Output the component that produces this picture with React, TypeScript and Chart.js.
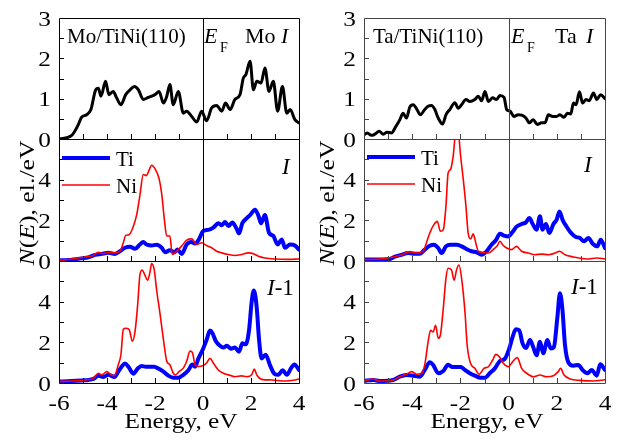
import React, { useEffect, useRef } from "react";
import { Chart, registerables } from "chart.js";
Chart.register(...registerables);

const W = 619;
const H = 441;
const FONT = '"Liberation Serif", "Times New Roman", serif';

// ---- axes ----
const xMin = -6;
const xMax = 4;
const xTickLabels = [-6, -4, -2, 0, 2, 4];

// ---- Mo/TiNi(110): total DOS of Mo (top) ----
const moTotalX = [-6,-5.47,-5.2,-5.06,-4.85,-4.67,-4.47,-4.36,-4.25,-4.06,-3.92,-3.74,-3.6,-3.42,-3.22,-3.04,-2.86,-2.69,-2.49,-2.28,-2.0,-1.83,-1.65,-1.51,-1.38,-1.24,-1.03,-0.82,-0.68,-0.47,-0.26,-0.06,0.15,0.36,0.57,0.78,0.94,1.13,1.33,1.54,1.68,1.79,1.96,2.1,2.24,2.42,2.58,2.75,2.93,3.11,3.31,3.49,3.63,3.83,4.0];
const moTotalY = [0,0.09,0.35,0.54,0.6,0.73,1.22,1.26,1.06,1.43,1.1,1.18,1.02,0.85,1.1,1.22,1.3,1.22,0.98,1.03,1.1,1.18,0.89,1.06,1.35,0.85,1.18,0.64,0.69,0.56,0.42,0.69,0.45,0.77,0.83,0.69,0.89,0.73,0.98,1.1,1.51,1.6,1.93,1.22,1.43,1.39,1.76,1.18,1.43,0.69,1.3,0.64,0.73,0.48,0.4];

// ---- Mo: layer I ----
const moITiX = [-6,-5.61,-5.06,-4.78,-4.5,-4.22,-3.94,-3.67,-3.46,-3.25,-3.04,-2.83,-2.63,-2.49,-2.35,-2.14,-1.93,-1.72,-1.58,-1.38,-1.19,-1.06,-0.89,-0.68,-0.5,-0.33,-0.17,0.01,0.22,0.43,0.64,0.78,0.92,1.06,1.22,1.4,1.5,1.64,1.78,1.96,2.17,2.31,2.42,2.58,2.75,2.93,3.11,3.28,3.42,3.63,3.83,4.0];
const moITiY = [0.03,0.05,0.13,0.18,0.3,0.35,0.4,0.35,0.48,0.65,0.7,0.6,0.81,0.93,0.81,0.76,0.8,0.65,0.43,0.53,0.43,0.56,0.35,0.81,0.93,0.86,1.06,1.48,1.53,1.64,1.86,1.76,1.92,1.72,1.89,1.59,1.36,1.86,2.06,2.26,2.52,2.22,1.86,2.26,1.39,1.23,0.81,1.06,0.65,0.81,0.76,0.56];
const moINiX = [-6,-5.47,-4.92,-4.57,-4.36,-4.15,-3.94,-3.67,-3.46,-3.32,-3.22,-3.08,-2.9,-2.76,-2.63,-2.49,-2.35,-2.25,-2.14,-2.0,-1.83,-1.72,-1.61,-1.51,-1.38,-1.28,-1.1,-0.89,-0.68,-0.47,-0.26,-0.06,0.15,0.36,0.57,0.78,1.06,1.33,1.61,1.89,2.1,2.31,2.58,3.0,3.56,4.0];
const moINiY = [0.03,0.1,0.2,0.27,0.43,0.36,0.43,0.4,0.48,0.9,1.26,1.29,1.71,2.29,3.22,4.25,4.2,4.46,4.71,4.54,4.05,3.3,2.04,1.23,1.23,0.32,0.48,0.73,1.03,1.09,0.81,0.9,0.76,0.65,0.48,0.4,0.32,0.27,0.32,0.4,0.36,0.23,0.15,0.1,0.08,0.1];

// ---- Mo: layer I-1 ----
const moI1TiX = [-6,-5.47,-4.92,-4.57,-4.36,-4.15,-3.94,-3.69,-3.53,-3.39,-3.25,-3.11,-2.9,-2.72,-2.56,-2.39,-2.21,-2.03,-1.86,-1.65,-1.44,-1.24,-1.03,-0.82,-0.61,-0.44,-0.33,-0.19,0.01,0.15,0.29,0.39,0.53,0.71,0.85,0.99,1.17,1.33,1.5,1.64,1.78,1.92,2.03,2.12,2.24,2.33,2.44,2.61,2.79,2.97,3.14,3.32,3.49,3.67,3.81,4.0];
const moI1TiY = [0.07,0.1,0.13,0.2,0.36,0.3,0.4,0.3,0.56,0.8,0.96,0.8,0.46,0.71,0.84,0.8,0.8,0.8,0.71,0.56,0.36,0.26,0.26,0.4,0.63,0.91,0.8,1.21,1.7,2.12,2.58,2.46,2.07,1.83,1.74,1.83,1.69,1.74,1.54,1.95,1.9,2.61,4.02,4.55,3.69,2.21,1.21,1.39,0.88,0.46,0.4,0.63,0.4,0.73,0.91,0.64];
const moI1NiX = [-6,-5.47,-4.92,-4.57,-4.36,-4.22,-4.01,-3.83,-3.69,-3.53,-3.42,-3.32,-3.22,-3.08,-2.94,-2.83,-2.72,-2.63,-2.53,-2.42,-2.31,-2.21,-2.14,-2.03,-1.93,-1.79,-1.65,-1.51,-1.38,-1.24,-1.14,-1.0,-0.82,-0.68,-0.54,-0.44,-0.33,-0.19,0.01,0.15,0.29,0.43,0.64,0.85,1.06,1.33,1.61,1.82,2.03,2.14,2.24,2.44,2.86,3.42,3.83,4.0];
const moI1NiY = [0.07,0.1,0.15,0.23,0.48,0.4,0.56,0.4,0.36,0.9,1.39,2.64,2.69,2.64,2.05,2.55,3.88,5.3,5.55,5.3,5.05,5.45,5.87,5.55,4.55,3.4,2.15,1.07,0.9,0.48,0.4,0.56,0.73,1.07,1.57,1.49,0.9,0.81,0.86,0.98,1.21,0.98,0.64,0.48,0.4,0.31,0.35,0.31,0.41,0.68,0.4,0.18,0.15,0.1,0.15,0.2];

// ---- Ta/TiNi(110): total DOS of Ta (top) ----
const taTotalX = [-6,-5.87,-5.69,-5.55,-5.37,-5.2,-5.04,-4.86,-4.68,-4.51,-4.38,-4.24,-4.1,-3.96,-3.8,-3.66,-3.48,-3.34,-3.2,-3.06,-2.92,-2.74,-2.6,-2.44,-2.23,-2.09,-1.95,-1.77,-1.61,-1.4,-1.26,-1.12,-0.98,-0.84,-0.66,-0.5,-0.36,-0.19,-0.08,0.06,0.22,0.4,0.54,0.72,0.86,1.02,1.19,1.37,1.51,1.65,1.83,1.99,2.13,2.3,2.44,2.58,2.69,2.8,2.94,3.07,3.21,3.35,3.52,3.66,3.82,4.0];
const taTotalY = [0.1,0.15,0.09,0.12,0.19,0.12,0.17,0.15,0.31,0.48,0.64,0.52,0.79,0.85,0.73,0.6,0.73,0.81,0.83,0.73,0.52,0.37,0.6,0.73,0.9,0.76,0.85,0.98,0.93,0.98,1.06,0.95,1.18,0.93,1.02,0.98,1.08,1.03,0.73,0.69,0.56,0.6,0.59,0.52,0.4,0.48,0.36,0.4,0.4,0.6,0.56,0.56,0.6,0.54,0.64,0.62,0.89,0.85,1.17,0.89,0.98,0.95,1.14,0.98,1.1,1.0];

// ---- Ta: layer I ----
const taITiX = [-6,-5.49,-4.93,-4.72,-4.45,-4.17,-3.96,-3.68,-3.48,-3.27,-3.1,-2.92,-2.78,-2.6,-2.41,-2.16,-1.95,-1.75,-1.54,-1.33,-1.12,-0.91,-0.71,-0.53,-0.36,-0.19,-0.01,0.17,0.33,0.54,0.72,0.86,1.0,1.16,1.3,1.41,1.55,1.69,1.86,1.99,2.11,2.24,2.38,2.55,2.76,2.96,3.13,3.31,3.49,3.68,3.82,4.0];
const taITiY = [0.07,0.07,0.1,0.21,0.3,0.39,0.36,0.36,0.56,0.75,0.8,0.64,0.39,0.72,0.8,0.8,0.72,0.59,0.48,0.43,0.31,0.48,0.8,1.02,1.34,1.25,1.21,1.44,1.69,1.82,1.9,2.11,1.82,1.54,2.2,1.54,1.82,1.38,1.82,2.02,2.44,2.02,1.74,1.44,1.2,1.13,0.97,1.13,0.85,0.72,1.05,0.64];
const taINiX = [-6,-5.35,-4.79,-4.45,-4.1,-3.82,-3.55,-3.41,-3.27,-3.1,-2.96,-2.83,-2.71,-2.6,-2.51,-2.41,-2.3,-2.19,-2.09,-1.99,-1.88,-1.77,-1.68,-1.58,-1.47,-1.36,-1.26,-1.05,-0.84,-0.64,-0.47,-0.36,-0.25,-0.08,0.12,0.33,0.54,0.82,1.09,1.37,1.65,1.93,2.11,2.34,2.69,3.24,3.66,4.0];
const taINiY = [0.07,0.1,0.2,0.3,0.46,0.39,0.46,0.89,1.38,1.79,1.95,1.46,1.54,2.69,4.33,4.5,5.15,6.3,6.3,5.15,4.0,2.69,1.38,1.08,1.34,0.89,0.48,0.43,0.39,0.56,0.75,0.97,0.8,0.64,0.56,0.72,0.48,0.39,0.31,0.34,0.31,0.39,0.48,0.31,0.2,0.1,0.15,0.1];

// ---- Ta: layer I-1 ----
const taI1TiX = [-6,-5.62,-5.35,-4.79,-4.52,-4.24,-3.96,-3.68,-3.48,-3.27,-3.13,-2.92,-2.71,-2.51,-2.33,-2.16,-1.99,-1.81,-1.61,-1.4,-1.16,-0.98,-0.78,-0.57,-0.36,-0.15,0.03,0.17,0.3,0.44,0.58,0.72,0.89,1.02,1.16,1.3,1.44,1.61,1.75,1.88,2.02,2.13,2.23,2.34,2.48,2.69,2.89,3.07,3.27,3.45,3.66,3.8,4.0];
const taI1TiY = [0.1,0.15,0.1,0.15,0.31,0.39,0.36,0.31,0.64,1.02,0.89,0.48,0.59,0.9,0.79,0.79,0.79,0.64,0.48,0.36,0.26,0.26,0.48,0.72,1.08,1.2,1.7,2.28,2.64,2.59,1.95,1.72,2.11,1.77,1.36,2.03,1.46,2.11,1.7,1.77,3.18,4.41,3.67,1.87,1.02,0.85,0.89,0.64,0.48,0.64,0.36,0.92,0.64];
const taI1NiX = [-6,-5.62,-5.35,-4.79,-4.52,-4.24,-4.03,-3.82,-3.61,-3.48,-3.34,-3.24,-3.13,-3.03,-2.92,-2.83,-2.71,-2.6,-2.51,-2.37,-2.26,-2.16,-2.06,-1.95,-1.81,-1.72,-1.58,-1.4,-1.22,-1.02,-0.84,-0.66,-0.53,-0.39,-0.22,-0.01,0.17,0.36,0.54,0.75,1.02,1.3,1.58,1.86,2.06,2.16,2.3,2.55,2.96,3.52,4.0];
const taI1NiY = [0.1,0.2,0.1,0.15,0.31,0.43,0.56,0.43,0.48,0.89,2.02,2.59,2.51,2.84,2.2,2.36,3.67,5.15,5.64,5.56,5.05,5.56,5.8,5.15,3.49,1.87,0.97,0.72,0.43,0.72,0.8,1.13,1.41,1.3,0.97,0.8,1.05,1.25,0.72,0.48,0.31,0.39,0.31,0.36,0.56,0.72,0.39,0.2,0.13,0.1,0.16];

// ---- text helpers ----
type Run = { t: string; it?: boolean; size: number; dy?: number };
const fontOf = (r: Run) => `${r.it ? "italic " : ""}${r.size}px ${FONT}`;
function runsWidth(ctx: CanvasRenderingContext2D, runs: Run[]) {
  let w = 0;
  for (const r of runs) {
    ctx.font = fontOf(r);
    w += ctx.measureText(r.t).width;
  }
  return w;
}
function drawRuns(
  ctx: CanvasRenderingContext2D,
  runs: Run[],
  x: number,
  y: number,
  sx = 1,
  align: "left" | "center" | "right" = "left",
  rotate = 0
) {
  ctx.save();
  ctx.translate(x, y);
  if (rotate) ctx.rotate(rotate);
  ctx.scale(sx, 1);
  ctx.fillStyle = "#000";
  ctx.textBaseline = "alphabetic";
  ctx.textAlign = "left";
  const tw = runsWidth(ctx, runs);
  let cx = align === "center" ? -tw / 2 : align === "right" ? -tw : 0;
  for (const r of runs) {
    ctx.font = fontOf(r);
    ctx.fillText(r.t, cx, r.dy || 0);
    cx += ctx.measureText(r.t).width;
  }
  ctx.restore();
}
function legendItem(ctx: CanvasRenderingContext2D, x: number, y: number, color: string, width: number, label: string) {
  ctx.save();
  ctx.strokeStyle = color;
  ctx.lineWidth = width;
  ctx.beginPath();
  ctx.moveTo(x, y);
  ctx.lineTo(x + 48, y);
  ctx.stroke();
  ctx.restore();
  drawRuns(ctx, [{ t: label, size: 21 }], x + 54, y + 8);
}

type Series = { xs: number[]; ys: number[]; color: string; width: number };
type PanelSpec = {
  key: string;
  left: number;
  right: number;
  top: number;
  bottom: number;
  yMax: number;
  yStep: number;
  yMinor: number;
  showX: boolean;
  hideTop: boolean;
  frame: string;
  series: Series[];
  annotate: (ctx: CanvasRenderingContext2D) => void;
};

const BLACK = "#000000";
const BLUE = "#0000ff";
const RED = "#ff0000";

const LX0 = 59, LX1 = 299, RX0 = 364, RX1 = 605;
const R1T = 18, R1B = 139, R2B = 261, R3B = 383;
const TICK_SIZE = 22;
const TEXT_SX = 1.15;

const panels: PanelSpec[] = [
  {
    key: "moTop", left: LX0, right: LX1, top: R1T, bottom: R1B, yMax: 3, yStep: 1, yMinor: 0.5,
    showX: false, hideTop: false, frame: "#000",
    series: [{ xs: moTotalX, ys: moTotalY, color: BLACK, width: 3 }],
    annotate: (ctx) => {
      drawRuns(ctx, [{ t: "Mo/TiNi(110)", size: 21 }], 67, 43);
      drawRuns(ctx, [{ t: "E", it: true, size: 22 }], 204, 43);
      drawRuns(ctx, [{ t: "F", size: 14 }], 220, 52);
      drawRuns(ctx, [{ t: "Mo", size: 22 }], 245, 43);
      drawRuns(ctx, [{ t: "I", it: true, size: 22 }], 281, 43);
      drawRuns(ctx, [{ t: "N", it: true, size: 22 }, { t: "(", size: 22 }, { t: "E", it: true, size: 22 }, { t: "), el./eV", size: 22 }], 34, 203, 1.17, "center", -Math.PI / 2);
    },
  },
  {
    key: "moI", left: LX0, right: LX1, top: R1B, bottom: R2B, yMax: 6, yStep: 2, yMinor: 1,
    showX: false, hideTop: true, frame: "#000",
    series: [
      { xs: moINiX, ys: moINiY, color: RED, width: 1.6 },
      { xs: moITiX, ys: moITiY, color: BLUE, width: 4 },
    ],
    annotate: (ctx) => {
      legendItem(ctx, 62, 158, BLUE, 4, "Ti");
      legendItem(ctx, 62, 185, RED, 1.6, "Ni");
      drawRuns(ctx, [{ t: "I", it: true, size: 23 }], 282, 174);
    },
  },
  {
    key: "moI1", left: LX0, right: LX1, top: R2B, bottom: R3B, yMax: 6, yStep: 2, yMinor: 1,
    showX: true, hideTop: true, frame: "#000",
    series: [
      { xs: moI1NiX, ys: moI1NiY, color: RED, width: 1.6 },
      { xs: moI1TiX, ys: moI1TiY, color: BLUE, width: 4 },
    ],
    annotate: (ctx) => {
      drawRuns(ctx, [{ t: "I", it: true, size: 23 }, { t: "-1", size: 23 }], 267, 295);
      drawRuns(ctx, [{ t: "Energy, eV", size: 22 }], 181, 428, 1.15, "center");
    },
  },
  {
    key: "taTop", left: RX0, right: RX1, top: R1T, bottom: R1B, yMax: 3, yStep: 1, yMinor: 0.5,
    showX: false, hideTop: false, frame: "#444",
    series: [{ xs: taTotalX, ys: taTotalY, color: BLACK, width: 3 }],
    annotate: (ctx) => {
      drawRuns(ctx, [{ t: "Ta/TiNi(110)", size: 21 }], 373, 43);
      drawRuns(ctx, [{ t: "E", it: true, size: 22 }], 511, 43);
      drawRuns(ctx, [{ t: "F", size: 14 }], 527, 52);
      drawRuns(ctx, [{ t: "Ta", size: 22 }], 555, 43);
      drawRuns(ctx, [{ t: "I", it: true, size: 22 }], 586, 43);
      drawRuns(ctx, [{ t: "N", it: true, size: 22 }, { t: "(", size: 22 }, { t: "E", it: true, size: 22 }, { t: "), el./eV", size: 22 }], 334, 203, 1.17, "center", -Math.PI / 2);
    },
  },
  {
    key: "taI", left: RX0, right: RX1, top: R1B, bottom: R2B, yMax: 6, yStep: 2, yMinor: 1,
    showX: false, hideTop: true, frame: "#444",
    series: [
      { xs: taINiX, ys: taINiY, color: RED, width: 1.6 },
      { xs: taITiX, ys: taITiY, color: BLUE, width: 4 },
    ],
    annotate: (ctx) => {
      legendItem(ctx, 367, 157, BLUE, 4, "Ti");
      legendItem(ctx, 367, 184, RED, 1.6, "Ni");
      drawRuns(ctx, [{ t: "I", it: true, size: 23 }], 584, 172);
    },
  },
  {
    key: "taI1", left: RX0, right: RX1, top: R2B, bottom: R3B, yMax: 6, yStep: 2, yMinor: 1,
    showX: true, hideTop: true, frame: "#444",
    series: [
      { xs: taI1NiX, ys: taI1NiY, color: RED, width: 1.6 },
      { xs: taI1TiX, ys: taI1TiY, color: BLUE, width: 4 },
    ],
    annotate: (ctx) => {
      drawRuns(ctx, [{ t: "I", it: true, size: 23 }, { t: "-1", size: 23 }], 571, 294);
      drawRuns(ctx, [{ t: "Energy, eV", size: 22 }], 487, 428, 1.15, "center");
    },
  },
];

function PanelChart({ spec }: { spec: PanelSpec }) {
  const ref = useRef<HTMLCanvasElement>(null);
  useEffect(() => {
    if (!ref.current) return;
    const chart = new Chart(ref.current, {
      type: "line",
      data: {
        datasets: spec.series.map((s) => ({
          data: s.xs.map((x, i) => ({ x, y: s.ys[i] })),
          borderColor: s.color,
          backgroundColor: s.color,
          borderWidth: s.width,
          pointRadius: 0,
          fill: false,
          cubicInterpolationMode: "monotone" as const,
          borderJoinStyle: "round" as const,
          borderCapStyle: "round" as const,
        })),
      },
      options: {
        responsive: false,
        animation: false,
        events: [],
        layout: {
          padding: { left: spec.left, right: W - spec.right, top: spec.top, bottom: H - spec.bottom },
        },
        plugins: { legend: { display: false }, tooltip: { enabled: false } },
        scales: {
          x: {
            type: "linear",
            min: xMin,
            max: xMax,
            grid: { display: false },
            border: { display: false },
            afterBuildTicks: (s: any) => {
              s.ticks = xTickLabels.map((v) => ({ value: v }));
            },
            afterFit: (s: any) => {
              s.height = 0;
              s.paddingLeft = 0;
              s.paddingRight = 0;
            },
            ticks: { display: false },
          },
          y: {
            type: "linear",
            min: 0,
            max: spec.yMax,
            grid: { display: false },
            border: { display: false },
            afterFit: (s: any) => {
              s.width = 0;
              s.paddingTop = 0;
              s.paddingBottom = 0;
            },
            ticks: { display: false, stepSize: spec.yStep },
          },
        },
      },
      plugins: [
        {
          id: "frame_" + spec.key,
          afterDraw(c: any) {
            const ctx: CanvasRenderingContext2D = c.ctx;
            const { left, right, top, bottom } = c.chartArea;
            const xs = c.scales.x;
            const ys = c.scales.y;
            ctx.save();
            ctx.strokeStyle = spec.frame;
            ctx.lineWidth = 1;
            ctx.beginPath();
            ctx.rect(Math.round(left) + 0.5, Math.round(top) + 0.5, Math.round(right - left), Math.round(bottom - top));
            const x0 = Math.round(xs.getPixelForValue(0)) + 0.5;
            ctx.moveTo(x0, top);
            ctx.lineTo(x0, bottom);
            for (let v = xMin + 1; v < xMax; v++) {
              const px = Math.round(xs.getPixelForValue(v)) + 0.5;
              ctx.moveTo(px, bottom);
              ctx.lineTo(px, bottom - 5);
            }
            for (let v = spec.yMinor; v < spec.yMax - 1e-6; v += spec.yMinor) {
              const py = Math.round(ys.getPixelForValue(v)) + 0.5;
              ctx.moveTo(left, py);
              ctx.lineTo(left + 5, py);
            }
            ctx.stroke();
            ctx.restore();
            // tick labels from the scales' own ticks
            for (const t of ys.ticks) {
              const v = t.value;
              if (spec.hideTop && v === spec.yMax) continue;
              const py = ys.getPixelForValue(v);
              drawRuns(ctx, [{ t: String(v), size: TICK_SIZE }], left - 8, py + 7.5, TEXT_SX, "right");
            }
            if (spec.showX) {
              for (const t of xs.ticks) {
                const px = xs.getPixelForValue(t.value);
                drawRuns(ctx, [{ t: String(t.value), size: TICK_SIZE }], px, 410, TEXT_SX, "center");
              }
            }
            spec.annotate(ctx);
          },
        },
      ],
    } as any);
    return () => chart.destroy();
  }, [spec]);
  return (
    <canvas
      ref={ref}
      width={W}
      height={H}
      style={{ position: "absolute", left: 0, top: 0, width: W, height: H }}
    />
  );
}

export default function App() {
  return (
    <div style={{ position: "absolute", left: 0, top: 0, width: W, height: H, background: "#fff", overflow: "hidden" }}>
      {panels.map((p) => (
        <PanelChart key={p.key} spec={p} />
      ))}
    </div>
  );
}
